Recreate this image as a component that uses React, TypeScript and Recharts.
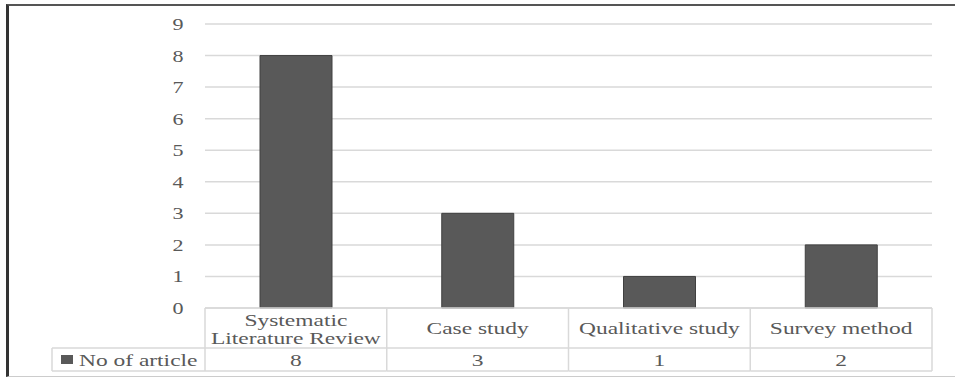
import React from 'react';
import { BarChart, Bar, XAxis, YAxis, CartesianGrid } from 'recharts';

const categories = ['Systematic Literature Review', 'Case study', 'Qualitative study', 'Survey method'];
const articleCounts = [8, 3, 1, 2];
const seriesName = 'No of article';
const yTicks = [0, 1, 2, 3, 4, 5, 6, 7, 8, 9];

const data = categories.map((name, i) => ({ name, count: articleCounts[i] }));

const W = 955;
const H = 380;
const MARGIN = { top: 24, right: 23, bottom: 0, left: 0 };
const X_AXIS_H = 72;
const Y_AXIS_W = 205;
const PLOT_LEFT = MARGIN.left + Y_AXIS_W;
const PLOT_RIGHT = W - MARGIN.right;
const BAND = (PLOT_RIGHT - PLOT_LEFT) / categories.length;
const TABLE_TOP = H - MARGIN.bottom - X_AXIS_H;
const ROW2_TOP = TABLE_TOP + 40;
const TABLE_BOTTOM = ROW2_TOP + 23;
const LEGEND_LEFT = 52;

const BAR = '#595959';
const TEXT = '#595959';
const RULE = '#d9d9d9';
const FONT = 'Liberation Serif, Times New Roman, serif';
const STRETCH = 1.38;

const splitLabel = (s: string) => {
    if (s.length <= 20) return [s];
    const i = s.indexOf(' ');
    return [s.slice(0, i), s.slice(i + 1)];
};

const Stretch = ({ x, y, anchor = 'middle', k = STRETCH, children }: any) => (
    <text
        transform={`translate(${x},${y}) scale(${k},1)`}
        textAnchor={anchor}
        dominantBaseline="central"
        style={{ fontFamily: FONT, fontSize: 17 }}
        fill={TEXT}
    >
        {children}
    </text>
);

const ValueTick = (props: any) => {
    const { y, payload } = props;
    return <Stretch x={178} y={y} k={1.3}>{payload.value}</Stretch>;
};

const TableTick = (props: any) => {
    const { x, payload, index } = props;
    const left = x - BAND / 2;
    const right = x + BAND / 2;
    const lines = splitLabel(payload.value);
    const line = (x1: number, y1: number, x2: number, y2: number) => (
        <line x1={x1} y1={y1} x2={x2} y2={y2} stroke={RULE} strokeWidth={1.5} />
    );
    return (
        <g>
            {index === 0 && (
                <g>
                    {line(left, TABLE_TOP, left, TABLE_BOTTOM)}
                    {line(LEGEND_LEFT, ROW2_TOP, LEGEND_LEFT, TABLE_BOTTOM)}
                    {line(LEGEND_LEFT, ROW2_TOP, left, ROW2_TOP)}
                    {line(LEGEND_LEFT, TABLE_BOTTOM, left, TABLE_BOTTOM)}
                    <rect x={61} y={ROW2_TOP + 7} width={12} height={9} fill={BAR} />
                    <Stretch x={79} y={ROW2_TOP + 12} anchor="start">{seriesName}</Stretch>
                </g>
            )}
            {line(right, TABLE_TOP, right, TABLE_BOTTOM)}
            {line(left, ROW2_TOP, right, ROW2_TOP)}
            {line(left, TABLE_BOTTOM, right, TABLE_BOTTOM)}
            {lines.length === 1 ? (
                <Stretch x={x} y={TABLE_TOP + 20}>{lines[0]}</Stretch>
            ) : (
                lines.map((t, i) => (
                    <Stretch key={i} x={x} y={TABLE_TOP + 12 + i * 18}>{t}</Stretch>
                ))
            )}
            <Stretch x={x} y={ROW2_TOP + 12}>{articleCounts[index]}</Stretch>
        </g>
    );
};

const App: React.FC = () => {
    return (
        <div style={{ position: 'relative', width: W, height: H, background: '#fff' }}>
            <style>{'body{margin:0}'}</style>
            <div
                style={{
                    position: 'absolute',
                    left: 6,
                    top: 4,
                    width: W,
                    height: 373,
                    borderLeft: '3px solid #333',
                    borderTop: '2px solid #555',
                    borderBottom: '1px solid #ccc',
                    boxSizing: 'border-box',
                }}
            />
            <div style={{ position: 'absolute', left: 0, top: 0 }}>
                <BarChart width={W} height={H} data={data} margin={MARGIN}>
                    <CartesianGrid horizontal vertical={false} stroke={RULE} strokeWidth={1.5} />
                    <XAxis
                        dataKey="name"
                        interval={0}
                        height={X_AXIS_H}
                        axisLine={{ stroke: RULE, strokeWidth: 1.5 }}
                        tickLine={false}
                        tick={<TableTick />}
                    />
                    <YAxis
                        width={Y_AXIS_W}
                        domain={[0, 9]}
                        ticks={yTicks}
                        axisLine={false}
                        tickLine={false}
                        tick={<ValueTick />}
                    />
                    <Bar
                        dataKey="count"
                        fill={BAR}
                        stroke="#404040"
                        barSize={72}
                        isAnimationActive={false}
                    />
                </BarChart>
            </div>
        </div>
    );
};

export default App;
